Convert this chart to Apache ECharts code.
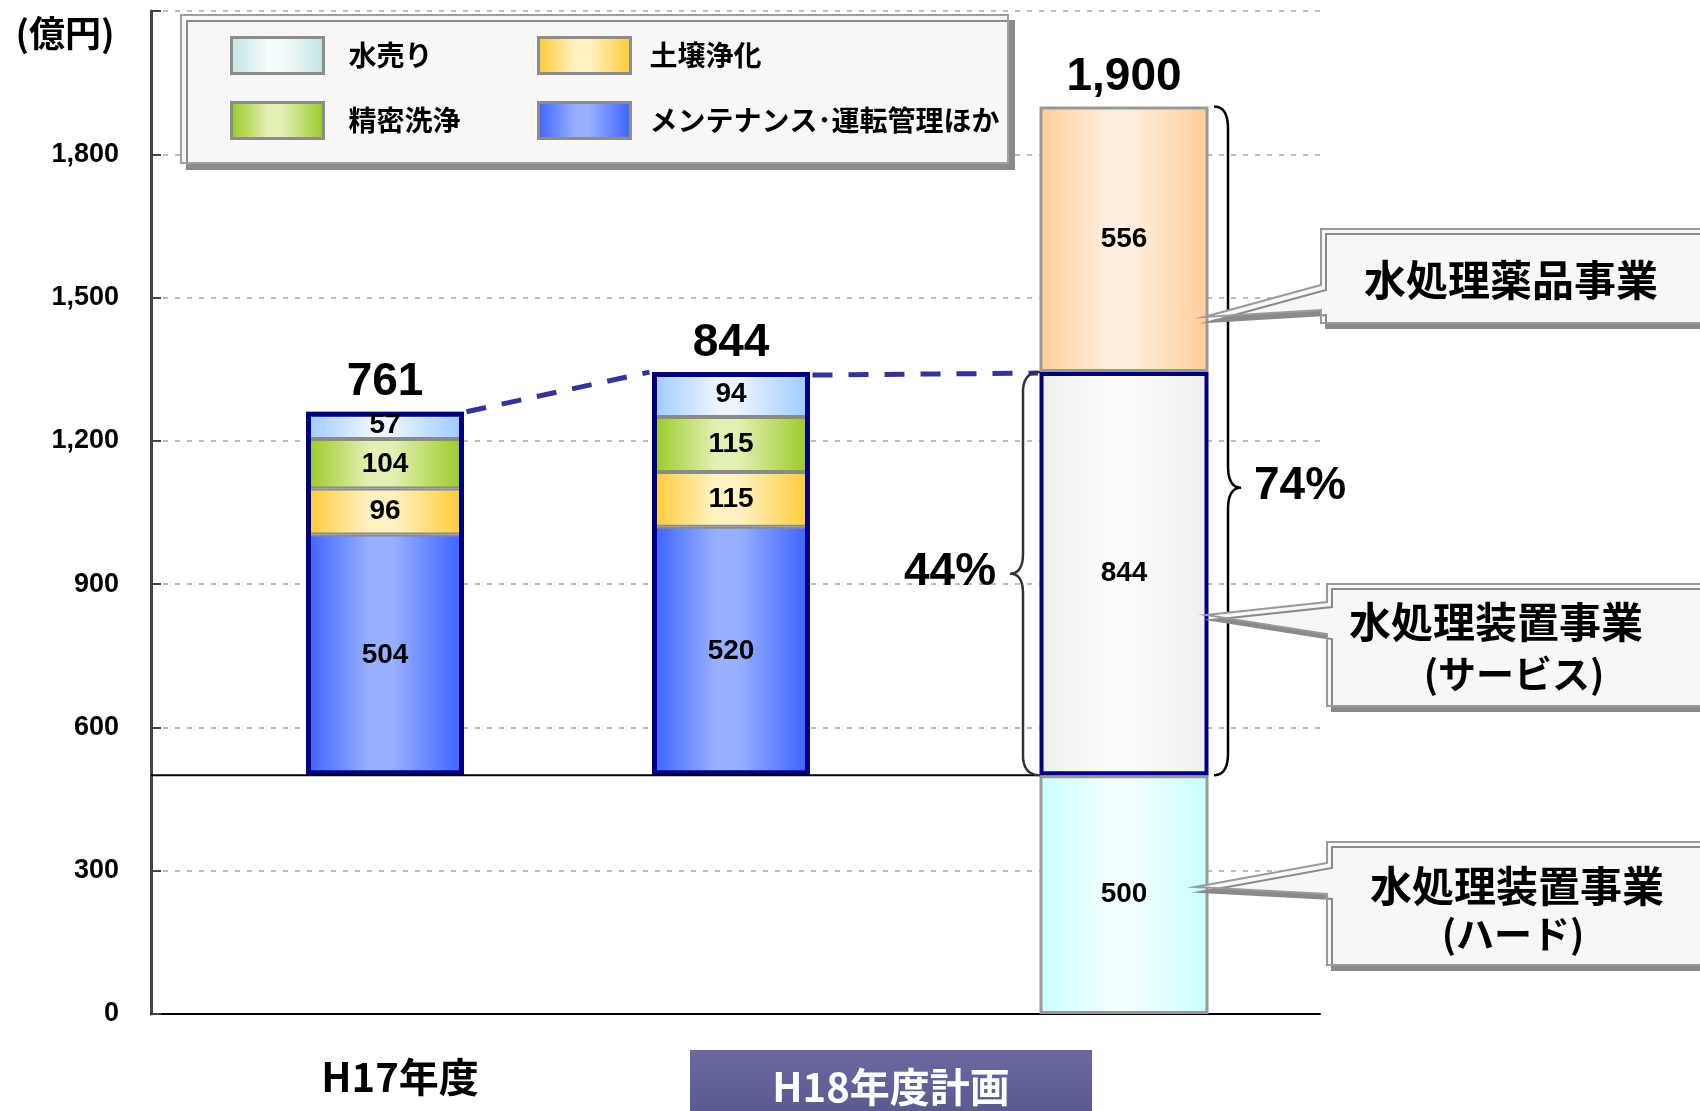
<!DOCTYPE html>
<html>
<head>
<meta charset="utf-8">
<script src="https://cdn.jsdelivr.net/npm/echarts/dist/echarts.min.js"></script>
<style>
html, body { margin: 0; padding: 0; background: #fff; }
#main { width: 1700px; height: 1111px; }
</style>
</head>
<body>
<div id="main"></div>
<script>
var JP = '"Noto Sans CJK JP", sans-serif';
var NUM = '"Liberation Sans", Arial, sans-serif';

// H17 / H18 service breakdown (stack starts at the hardware level of 500)
var years = ['H17年度', 'H18年度計画'];
var baseValue = [500, 500];
var maintenance = [504, 520];
var soil = [96, 115];
var cleaning = [104, 115];
var water = [57, 94];
var totals = [761, 844];

// H18 plan, whole business
var planCat = ['H18年度計画内訳'];
var hard = [500];
var service = [844];
var chem = [556];
var planTotal = [1900];

var shares = ['44%', '74%'];
var callouts = [
    ['水処理薬品事業'],
    ['水処理装置事業', '(サービス)'],
    ['水処理装置事業', '(ハード)']
];

var dom = document.getElementById('main');
var myChart = echarts.init(dom);

function grad(edge, mid) {
    return new echarts.graphic.LinearGradient(0, 0, 1, 0, [
        { offset: 0, color: edge },
        { offset: 0.4, color: mid },
        { offset: 0.55, color: mid },
        { offset: 1, color: edge }
    ]);
}

var labelInside = {
    show: true, position: 'inside', color: '#000',
    fontFamily: NUM, fontWeight: 'bold', fontSize: 28
};
var clear = 'rgba(0,0,0,0)';

function seg(name, data, color) {
    return {
        name: name, type: 'bar', stack: 'h', xAxisIndex: 1, yAxisIndex: 1,
        barWidth: 158, barGap: '-100%', data: data,
        itemStyle: { color: color, borderColor: '#8a8a8a', borderWidth: 2 },
        label: labelInside
    };
}

function plan(name, data, color, border, bw, z) {
    return {
        name: name, type: 'bar', stack: 'p', xAxisIndex: 2, yAxisIndex: 2,
        barWidth: 169, barGap: '-100%', data: data, z: z,
        itemStyle: { color: color, borderColor: border, borderWidth: bw },
        label: labelInside
    };
}

var cWater = grad('#9ccaff', '#eaf3ff');
var cSoil = grad('#ffc933', '#fff2c2');
var cClean = grad('#99c922', '#e2f0b4');
var cMaint = grad('#3a62ff', '#98afff');

function legendRow(name, color) {
    return { name: name, icon: 'rect', itemStyle: { color: color, borderColor: '#8c8c8c', borderWidth: 3 } };
}

function legendCol(left, gap, rows) {
    return {
        orient: 'vertical', left: left, top: 36, padding: 0, z: 6,
        itemWidth: 92, itemHeight: 36, itemGap: 26,
        selectedMode: false,
        data: rows,
        formatter: '{a|{name}}',
        textStyle: {
            rich: {
                a: { padding: [0, 0, 0, gap], fontFamily: JP, fontWeight: 'bold', fontSize: 28, color: '#000' }
            }
        }
    };
}

option = {
    animation: false,
    grid: [
        { left: 151, right: 380, top: 11, bottom: 97 },
        { left: 212, width: 692, top: 11, bottom: 97 },
        { left: 1000, width: 248, top: 11, bottom: 97 }
    ],
    legend: [
        legendCol(230, 20, [
            legendRow('水売り', grad('#c2e2e6', '#f4fbfb')),
            legendRow('精密洗浄', cClean)
        ]),
        legendCol(537, 14, [
            legendRow('土壌浄化', cSoil),
            legendRow('メンテナンス･運転管理ほか', cMaint)
        ])
    ],
    xAxis: [
        {
            gridIndex: 0, type: 'value', min: 0, max: 1,
            axisLine: { show: true, onZero: false, lineStyle: { color: '#000', width: 2 } },
            axisTick: { show: false }, axisLabel: { show: false }, splitLine: { show: false }
        },
        { gridIndex: 1, type: 'category', data: years, show: false },
        { gridIndex: 2, type: 'category', data: planCat, show: false }
    ],
    yAxis: [
        {
            gridIndex: 0, type: 'value', min: 0, max: 2100, interval: 300,
            axisLine: { show: true, lineStyle: { color: '#444', width: 3 } },
            axisTick: { show: true, inside: true, length: 10, lineStyle: { color: '#444', width: 2 } },
            axisLabel: {
                margin: 32, color: '#000', fontFamily: NUM, fontWeight: 'bold', fontSize: 27,
                formatter: function (v) { return v === 2100 ? '' : v.toLocaleString('en-US'); }
            },
            splitLine: { show: true, lineStyle: { color: '#bcbcbc', width: 2, type: [5, 7] } }
        },
        { gridIndex: 1, type: 'value', min: 0, max: 2100, show: false },
        { gridIndex: 2, type: 'value', min: 0, max: 2100, show: false }
    ],
    series: [
        {
            name: 'base', type: 'bar', stack: 'h', xAxisIndex: 1, yAxisIndex: 1,
            barWidth: 158, barGap: '-100%', data: baseValue, silent: true,
            itemStyle: { color: clear }
        },
        seg('メンテナンス･運転管理ほか', maintenance, cMaint),
        seg('土壌浄化', soil, cSoil),
        seg('精密洗浄', cleaning, cClean),
        seg('水売り', water, cWater),
        {
            name: 'outlineBase', type: 'bar', stack: 'o', xAxisIndex: 1, yAxisIndex: 1,
            barWidth: 158, barGap: '-100%', data: baseValue, silent: true,
            itemStyle: { color: clear }
        },
        {
            name: '合計', type: 'bar', stack: 'o', xAxisIndex: 1, yAxisIndex: 1,
            barWidth: 158, barGap: '-100%', data: totals, silent: true,
            itemStyle: { color: clear, borderColor: '#000080', borderWidth: 5 },
            label: {
                show: true, position: 'top', distance: 6, color: '#000',
                fontFamily: NUM, fontWeight: 'bold', fontSize: 46
            }
        },
        plan('水処理装置事業(ハード)', hard, grad('#c8ffff', '#f2ffff'), '#999', 3, 2),
        plan('水処理装置事業(サービス)', service, grad('#efefef', '#fbfbfb'), '#000080', 4, 3),
        plan('水処理薬品事業', chem, grad('#ffcc99', '#ffeedd'), '#999', 3, 2),
        {
            name: 'H18合計', type: 'bar', stack: 'q', xAxisIndex: 2, yAxisIndex: 2,
            barWidth: 169, barGap: '-100%', data: planTotal, silent: true,
            itemStyle: { color: clear },
            label: {
                show: true, position: 'top', distance: 6, color: '#000',
                fontFamily: NUM, fontWeight: 'bold', fontSize: 46,
                formatter: function (p) { return p.value.toLocaleString('en-US'); }
            }
        }
    ]
};

myChart.setOption(option, true);

// annotations: connectors, braces, call-outs
function quad(pts, p0, c, p2) {
    for (var i = 1; i <= 12; i++) {
        var t = i / 12, u = 1 - t;
        pts.push([u * u * p0[0] + 2 * u * t * c[0] + t * t * p2[0], u * u * p0[1] + 2 * u * t * c[1] + t * t * p2[1]]);
    }
}

function brace(xEnd, xMid, xTip, yTop, yBot, yTip, r) {
    var pts = [[xEnd, yTop]];
    quad(pts, [xEnd, yTop], [xMid, yTop], [xMid, yTop + r]);
    pts.push([xMid, yTip - r]);
    quad(pts, [xMid, yTip - r], [xMid, yTip], [xTip, yTip]);
    quad(pts, [xTip, yTip], [xMid, yTip], [xMid, yTip + r]);
    pts.push([xMid, yBot - r]);
    quad(pts, [xMid, yBot - r], [xMid, yBot], [xEnd, yBot]);
    return pts;
}

function callout(bx, by, bw, bh, wt, wb, tx, ty) {
    return {
        type: 'polygon', z: 10,
        shape: { points: [[bx, by], [bx + bw, by], [bx + bw, by + bh], [bx, by + bh], [bx, wb], [tx, ty], [bx, wt]] },
        style: {
            fill: '#f7f7f7', stroke: '#9a9a9a', lineWidth: 2,
            shadowColor: '#8a8a8a', shadowBlur: 0, shadowOffsetX: 5, shadowOffsetY: 5
        }
    };
}

function txt(text, x, y, font, color, align) {
    return {
        type: 'text', x: x, y: y, z: 11,
        style: { text: text, font: font, fill: color || '#000', align: align || 'center', verticalAlign: 'middle' }
    };
}

function px(i, cat, v) {
    return myChart.convertToPixel({ xAxisIndex: i, yAxisIndex: i }, [cat, v]);
}

var half12 = 81.5, half3 = 86;
var t1 = px(1, years[0], baseValue[0] + totals[0]);
var t2 = px(1, years[1], baseValue[1] + totals[1]);
var sTop = px(2, planCat[0], hard[0] + service[0]);
var pTop = px(2, planCat[0], hard[0] + service[0] + chem[0]);
var pHard = px(2, planCat[0], hard[0]);
var ax500 = myChart.convertToPixel({ xAxisIndex: 0, yAxisIndex: 0 }, [0, hard[0]]);
var x3L = sTop[0] - half3;

var dash = { stroke: '#333399', lineWidth: 5, lineDash: [20, 16], fill: null };
var bigFont = 'bold 46px ' + NUM;
var boxFont = 'bold 42px ' + JP;
var subFont = 'bold 38px ' + JP;
var yTip74 = pTop[1] + 0.57 * (pHard[1] - pTop[1]);

myChart.setOption({
    graphic: [
        {
            type: 'rect', z: 1, shape: { x: 181, y: 15, width: 827, height: 148 },
            style: {
                fill: '#f7f7f7', stroke: '#a0a0a0', lineWidth: 2,
                shadowColor: '#8a8a8a', shadowBlur: 0, shadowOffsetX: 6, shadowOffsetY: 6
            }
        },
        { type: 'polyline', z: 5, shape: { points: [[t1[0] + half12, t1[1]], [t2[0] - half12, t2[1]]] }, style: dash },
        { type: 'polyline', z: 5, shape: { points: [[t2[0] + half12, t2[1] + 3], [x3L, sTop[1] + 1]] }, style: dash },
        { type: 'line', z: 5, shape: { x1: ax500[0], y1: ax500[1], x2: x3L, y2: ax500[1] }, style: { stroke: '#000', lineWidth: 2 } },
        {
            type: 'polyline', z: 6,
            shape: { points: brace(1214, 1228, 1241, pTop[1], pHard[1], yTip74, 22) },
            style: { fill: null, stroke: '#000', lineWidth: 2.5 }
        },
        {
            type: 'polyline', z: 6,
            shape: { points: brace(x3L + 2, 1023, 1010, sTop[1], pHard[1], (sTop[1] + pHard[1]) / 2, 20) },
            style: { fill: null, stroke: '#333', lineWidth: 2.5 }
        },
        txt(shares[0], 950, 572, bigFont),
        txt(shares[1], 1254, 486, bigFont, '#000', 'left'),
        callout(1321, 229, 400, 94, 285, 310, 1204, 317),
        txt(callouts[0][0], 1511, 280, boxFont),
        callout(1327, 584, 400, 122, 602, 634, 1206, 615),
        txt(callouts[1][0], 1496, 622, boxFont),
        txt(callouts[1][1], 1514, 674, subFont),
        callout(1327, 842, 400, 123, 863, 894, 1195, 887),
        txt(callouts[2][0], 1517, 886, boxFont),
        txt(callouts[2][1], 1513, 934, subFont),
        txt('(億円)', 65, 33, 'bold 36px ' + JP),
        txt(years[0], 400, 1077, 'bold 40px ' + JP),
        {
            type: 'rect', z: 5, shape: { x: 690, y: 1050, width: 402, height: 70 },
            style: { fill: new echarts.graphic.LinearGradient(0, 0, 0, 1, [{ offset: 0, color: '#6a6aa0' }, { offset: 1, color: '#58588e' }]) }
        },
        txt(years[1], 891, 1087, 'bold 40px ' + JP, '#fff')
    ]
});
</script>
</body>
</html>
